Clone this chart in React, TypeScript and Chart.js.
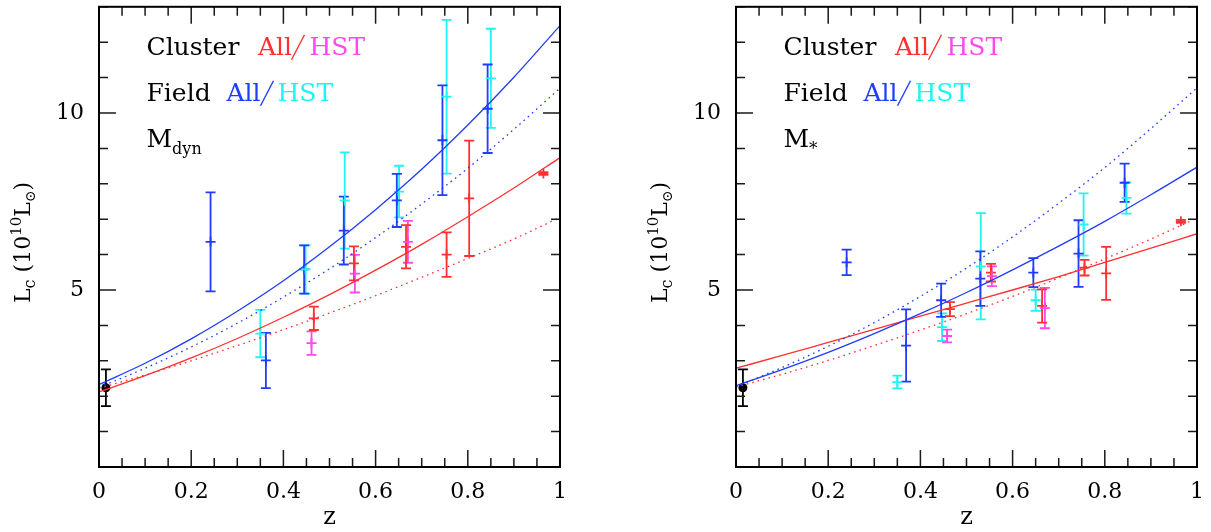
import React, { useEffect, useRef } from 'react';
import { Chart, registerables } from 'chart.js';

Chart.register(...registerables);

// ---------- colours / fonts ----------
const RED = '#ff3030';
const MAGENTA = '#ff48ee';
const BLUE = '#1f3cff';
const CYAN = '#1ef4f4';
const FONT = 'DejaVu Serif';

// ---------- axes ----------
const X_MIN = 0;
const X_MAX = 1;
const X_STEP = 0.05;
const X_LABELS = [0, 0.2, 0.4, 0.6, 0.8, 1];
const Y_MIN = 0;
const Y_MAX = 13;
const Y_STEP = 1;
const Y_LABELS = [5, 10];

// ---------- model curves ----------
const CURVE_Z = [0, 0.1, 0.2, 0.3, 0.4, 0.5, 0.6, 0.7, 0.8, 0.9, 1.0];
const DYN_FIELD_SOLID = [2.33, 2.93, 3.62, 4.40, 5.26, 6.22, 7.27, 8.41, 9.66, 11.01, 12.47];
const DYN_FIELD_DOTTED = [2.25, 2.79, 3.39, 4.06, 4.80, 5.60, 6.48, 7.43, 8.44, 9.54, 10.70];
const DYN_CLUSTER_SOLID = [2.12, 2.58, 3.08, 3.63, 4.23, 4.87, 5.56, 6.29, 7.07, 7.88, 8.74];
const DYN_CLUSTER_DOTTED = [2.22, 2.60, 3.00, 3.43, 3.88, 4.35, 4.84, 5.36, 5.89, 6.44, 7.05];

const STAR_FIELD_SOLID = [2.30, 2.75, 3.24, 3.77, 4.33, 4.93, 5.57, 6.24, 6.94, 7.69, 8.47];
const STAR_FIELD_DOTTED = [2.27, 2.81, 3.41, 4.08, 4.82, 5.62, 6.50, 7.45, 8.46, 9.56, 10.71];
const STAR_CLUSTER_SOLID = [2.79, 3.15, 3.52, 3.89, 4.26, 4.63, 5.00, 5.38, 5.78, 6.18, 6.59];
const STAR_CLUSTER_DOTTED = [2.26, 2.62, 3.01, 3.43, 3.87, 4.33, 4.82, 5.34, 5.88, 6.44, 7.03];

// ---------- local reference point ----------
const LOCAL_Z = [0.015];
const LOCAL_L = [2.24];
const LOCAL_ERR = [0.52];

// ---------- left panel: M_dyn ----------
const DYN_CLUSTER_ALL_Z = [0.466, 0.553, 0.666, 0.754, 0.803, 0.964];
const DYN_CLUSTER_ALL_L = [4.20, 5.75, 6.22, 6.00, 7.59, 8.29];
const DYN_CLUSTER_ALL_ERR = [0.33, 0.48, 0.61, 0.63, 1.63, 0.04];

const DYN_CLUSTER_HST_Z = [0.461, 0.555, 0.670];
const DYN_CLUSTER_HST_L = [3.50, 5.46, 6.36];
const DYN_CLUSTER_HST_ERR = [0.33, 0.53, 0.59];

const DYN_FIELD_ALL_Z = [0.242, 0.362, 0.445, 0.531, 0.646, 0.745, 0.843];
const DYN_FIELD_ALL_L = [6.36, 3.01, 5.58, 6.68, 7.53, 9.23, 10.12];
const DYN_FIELD_ALL_ERR = [1.40, 0.78, 0.68, 0.96, 0.75, 1.55, 1.25];

const DYN_FIELD_HST_Z = [0.350, 0.448, 0.533, 0.651, 0.754, 0.850];
const DYN_FIELD_HST_L = [3.77, 5.58, 7.53, 7.78, 10.46, 10.98];
const DYN_FIELD_HST_ERR = [0.67, 0.68, 1.36, 0.73, 2.17, 1.40];

// ---------- right panel: M_* ----------
const STAR_CLUSTER_ALL_Z = [0.464, 0.553, 0.664, 0.756, 0.803, 0.965];
const STAR_CLUSTER_ALL_L = [4.46, 5.49, 4.55, 5.63, 5.47, 6.94];
const STAR_CLUSTER_ALL_ERR = [0.20, 0.25, 0.47, 0.22, 0.75, 0.04];

const STAR_CLUSTER_HST_Z = [0.458, 0.555, 0.670];
const STAR_CLUSTER_HST_L = [3.70, 5.39, 4.49];
const STAR_CLUSTER_HST_ERR = [0.18, 0.28, 0.57];

const STAR_FIELD_ALL_Z = [0.240, 0.369, 0.445, 0.530, 0.645, 0.743, 0.843];
const STAR_FIELD_ALL_L = [5.78, 3.43, 4.71, 5.32, 5.49, 6.03, 8.03];
const STAR_FIELD_ALL_ERR = [0.36, 1.02, 0.47, 0.77, 0.41, 0.94, 0.54];

const STAR_FIELD_HST_Z = [0.350, 0.447, 0.531, 0.650, 0.754, 0.847];
const STAR_FIELD_HST_L = [2.40, 3.95, 5.67, 4.71, 6.85, 7.60];
const STAR_FIELD_HST_ERR = [0.18, 0.39, 1.50, 0.30, 0.88, 0.44];

// ---------- helpers ----------
type Seg = { t: string; c?: string; size?: number; dy?: number; at?: number; slash?: boolean };

function drawSegs(ctx: CanvasRenderingContext2D, segs: Seg[], x0: number, y0: number, base: number) {
  let x = x0;
  for (const s of segs) {
    if (s.at !== undefined) x = x0 + s.at;
    if (s.slash) {
      // thin, long stroke-font style slash
      ctx.save();
      ctx.strokeStyle = s.c ?? '#000';
      ctx.lineWidth = 1.4;
      ctx.beginPath();
      ctx.moveTo(x, y0 + 5);
      ctx.lineTo(x + 13, y0 - 20);
      ctx.stroke();
      ctx.restore();
      x += 15;
      continue;
    }
    ctx.font = `${s.size ?? base}px "${FONT}"`;
    ctx.fillStyle = s.c ?? '#000';
    ctx.fillText(s.t, x, y0 + (s.dy ?? 0));
    x += ctx.measureText(s.t).width;
  }
  return x - x0;
}

function curve(z: number[], l: number[], color: string, dotted: boolean) {
  return {
    type: 'line',
    data: z.map((x, i) => ({ x, y: l[i] })),
    borderColor: color,
    borderWidth: 1.3,
    borderDash: dotted ? [1.6, 4] : [],
    pointRadius: 0,
    showLine: true,
    fill: false,
    cubicInterpolationMode: 'monotone',
  };
}

function points(z: number[], l: number[], err: number[], color: string) {
  return {
    type: 'scatter',
    data: z.map((x, i) => ({ x, y: l[i] })),
    yErr: err,
    errColor: color,
    borderColor: color,
    backgroundColor: color,
    pointStyle: 'cross',
    pointRadius: 5,
    borderWidth: 1.8,
    showLine: false,
  };
}

type Panel = {
  fieldSolid: number[];
  fieldDotted: number[];
  clusterSolid: number[];
  clusterDotted: number[];
  clusterAll: [number[], number[], number[]];
  clusterHst: [number[], number[], number[]];
  fieldAll: [number[], number[], number[]];
  fieldHst: [number[], number[], number[]];
  massLabel: Seg[];
  yAxisWidth: number;
  padRight: number;
};

const LEFT_PANEL: Panel = {
  fieldSolid: DYN_FIELD_SOLID,
  fieldDotted: DYN_FIELD_DOTTED,
  clusterSolid: DYN_CLUSTER_SOLID,
  clusterDotted: DYN_CLUSTER_DOTTED,
  clusterAll: [DYN_CLUSTER_ALL_Z, DYN_CLUSTER_ALL_L, DYN_CLUSTER_ALL_ERR],
  clusterHst: [DYN_CLUSTER_HST_Z, DYN_CLUSTER_HST_L, DYN_CLUSTER_HST_ERR],
  fieldAll: [DYN_FIELD_ALL_Z, DYN_FIELD_ALL_L, DYN_FIELD_ALL_ERR],
  fieldHst: [DYN_FIELD_HST_Z, DYN_FIELD_HST_L, DYN_FIELD_HST_ERR],
  massLabel: [{ t: 'M' }, { t: 'dyn', size: 16, dy: 7 }],
  yAxisWidth: 99,
  padRight: 45,
};

const RIGHT_PANEL: Panel = {
  fieldSolid: STAR_FIELD_SOLID,
  fieldDotted: STAR_FIELD_DOTTED,
  clusterSolid: STAR_CLUSTER_SOLID,
  clusterDotted: STAR_CLUSTER_DOTTED,
  clusterAll: [STAR_CLUSTER_ALL_Z, STAR_CLUSTER_ALL_L, STAR_CLUSTER_ALL_ERR],
  clusterHst: [STAR_CLUSTER_HST_Z, STAR_CLUSTER_HST_L, STAR_CLUSTER_HST_ERR],
  fieldAll: [STAR_FIELD_ALL_Z, STAR_FIELD_ALL_L, STAR_FIELD_ALL_ERR],
  fieldHst: [STAR_FIELD_HST_Z, STAR_FIELD_HST_L, STAR_FIELD_HST_ERR],
  massLabel: [{ t: 'M' }, { t: '*', size: 17, dy: 7 }],
  yAxisWidth: 131,
  padRight: 14,
};

const decorPlugin = (panel: Panel) => ({
  id: 'decor',
  beforeDatasetsDraw(chart: any) {
    const ctx: CanvasRenderingContext2D = chart.ctx;
    const xs = chart.scales.x;
    const ys = chart.scales.y;
    ctx.save();
    chart.data.datasets.forEach((ds: any) => {
      if (!ds.yErr) return;
      ctx.strokeStyle = ds.errColor;
      ctx.lineWidth = 1.8;
      ds.data.forEach((p: any, i: number) => {
        const e = ds.yErr[i];
        const px = xs.getPixelForValue(p.x);
        const pt = ys.getPixelForValue(p.y + e);
        const pb = ys.getPixelForValue(p.y - e);
        ctx.beginPath();
        ctx.moveTo(px, pt);
        ctx.lineTo(px, pb);
        ctx.moveTo(px - 5, pt);
        ctx.lineTo(px + 5, pt);
        ctx.moveTo(px - 5, pb);
        ctx.lineTo(px + 5, pb);
        ctx.stroke();
      });
    });
    ctx.restore();
  },
  afterDraw(chart: any) {
    const ctx: CanvasRenderingContext2D = chart.ctx;
    const { left, right, top, bottom } = chart.chartArea;
    const xs = chart.scales.x;
    const ys = chart.scales.y;
    ctx.save();
    // inward ticks on all four sides
    ctx.strokeStyle = '#1a1a1a';
    ctx.lineWidth = 1.5;
    ctx.beginPath();
    xs.ticks.forEach((t: any) => {
      const px = xs.getPixelForValue(t.value);
      const major = X_LABELS.some((v) => Math.abs(v - t.value) < 1e-6);
      const len = major ? 17 : 9;
      ctx.moveTo(px, bottom);
      ctx.lineTo(px, bottom - len);
      ctx.moveTo(px, top);
      ctx.lineTo(px, top + len);
    });
    ys.ticks.forEach((t: any) => {
      const py = ys.getPixelForValue(t.value);
      const major = Y_LABELS.some((v) => Math.abs(v - t.value) < 1e-6);
      const len = major ? 17 : 9;
      ctx.moveTo(left, py);
      ctx.lineTo(left + len, py);
      ctx.moveTo(right, py);
      ctx.lineTo(right - len, py);
    });
    ctx.stroke();
    // frame
    ctx.strokeStyle = '#000';
    ctx.lineWidth = 2;
    ctx.strokeRect(left, top, right - left, bottom - top);

    // legend annotations
    ctx.textBaseline = 'alphabetic';
    ctx.textAlign = 'left';
    const lx = left + 47.5;
    drawSegs(ctx, [
      { t: 'Cluster' },
      { t: 'All', c: RED, at: 111.5 },
      { t: '/', c: RED, at: 145, slash: true },
      { t: 'HST', c: MAGENTA, at: 163 },
    ], lx, top + 48, 25);
    drawSegs(ctx, [
      { t: 'Field' },
      { t: 'All', c: BLUE, at: 80 },
      { t: '/', c: BLUE, at: 114, slash: true },
      { t: 'HST', c: CYAN, at: 131 },
    ], lx, top + 94, 25);
    drawSegs(ctx, panel.massLabel, lx, top + 140, 25);

    // y-axis title, rotated
    const ySegs: Seg[] = [
      { t: 'L' },
      { t: 'c', size: 16, dy: 5 },
      { t: ' (10' },
      { t: '10', size: 15, dy: -9 },
      { t: 'L' },
      { t: '\u2299', size: 14, dy: 5 },
      { t: ')' },
    ];
    ctx.translate(left - 69, 303);
    ctx.rotate(-Math.PI / 2);
    drawSegs(ctx, ySegs, 0, 0, 22);
    ctx.restore();
  },
});

function buildConfig(panel: Panel): any {
  return {
    type: 'scatter',
    data: {
      datasets: [
        curve(CURVE_Z, panel.fieldDotted, BLUE, true),
        curve(CURVE_Z, panel.clusterDotted, RED, true),
        curve(CURVE_Z, panel.fieldSolid, BLUE, false),
        curve(CURVE_Z, panel.clusterSolid, RED, false),
        points(panel.fieldHst[0], panel.fieldHst[1], panel.fieldHst[2], CYAN),
        points(panel.fieldAll[0], panel.fieldAll[1], panel.fieldAll[2], BLUE),
        points(panel.clusterHst[0], panel.clusterHst[1], panel.clusterHst[2], MAGENTA),
        points(panel.clusterAll[0], panel.clusterAll[1], panel.clusterAll[2], RED),
        {
          type: 'scatter',
          data: LOCAL_Z.map((x, i) => ({ x, y: LOCAL_L[i] })),
          yErr: LOCAL_ERR,
          errColor: '#000',
          pointStyle: 'circle',
          pointRadius: 4.5,
          backgroundColor: '#000',
          borderColor: '#000',
          borderWidth: 0,
        },
      ],
    },
    options: {
      responsive: false,
      animation: false,
      events: [],
      layout: { padding: { top: 5, right: panel.padRight, left: 0, bottom: 0 } },
      plugins: { legend: { display: false }, tooltip: { enabled: false } },
      scales: {
        x: {
          type: 'linear',
          min: X_MIN,
          max: X_MAX,
          border: { display: false },
          grid: { display: false, drawTicks: false },
          ticks: {
            stepSize: X_STEP,
            autoSkip: false,
            maxRotation: 0,
            padding: 12,
            color: '#000',
            font: { family: FONT, size: 22 },
            callback: (v: number) => {
              const hit = X_LABELS.find((l) => Math.abs(l - v) < 1e-6);
              return hit === undefined ? '' : String(hit);
            },
          },
          title: {
            display: true,
            text: 'z',
            color: '#000',
            font: { family: FONT, size: 24 },
            padding: { top: 0, bottom: 0 },
          },
          afterFit: (s: any) => {
            s.height = 65;
            s.paddingLeft = 0;
            s.paddingRight = 0;
          },
        },
        y: {
          type: 'linear',
          min: Y_MIN,
          max: Y_MAX,
          border: { display: false },
          grid: { display: false, drawTicks: false },
          ticks: {
            stepSize: Y_STEP,
            autoSkip: false,
            padding: 15,
            color: '#000',
            font: { family: FONT, size: 22 },
            callback: (v: number) => {
              const hit = Y_LABELS.find((l) => Math.abs(l - v) < 1e-6);
              return hit === undefined ? '' : String(hit);
            },
          },
          afterFit: (s: any) => {
            s.width = panel.yAxisWidth;
            s.paddingTop = 0;
            s.paddingBottom = 0;
          },
        },
      },
    },
    plugins: [decorPlugin(panel)],
  };
}

function PanelChart({ panel, width, left }: { panel: Panel; width: number; left: number }) {
  const ref = useRef<HTMLCanvasElement | null>(null);
  useEffect(() => {
    if (!ref.current) return;
    const chart = new Chart(ref.current, buildConfig(panel));
    return () => chart.destroy();
  }, [panel]);
  return (
    <canvas
      ref={ref}
      width={width}
      height={532}
      style={{ position: 'absolute', left, top: 0, width, height: 532, display: 'block' }}
    />
  );
}

export default function App() {
  return (
    <div style={{ position: 'absolute', left: 0, top: 0, width: 1211, height: 532, background: '#fff' }}>
      <PanelChart panel={LEFT_PANEL} width={605} left={0} />
      <PanelChart panel={RIGHT_PANEL} width={606} left={605} />
    </div>
  );
}
